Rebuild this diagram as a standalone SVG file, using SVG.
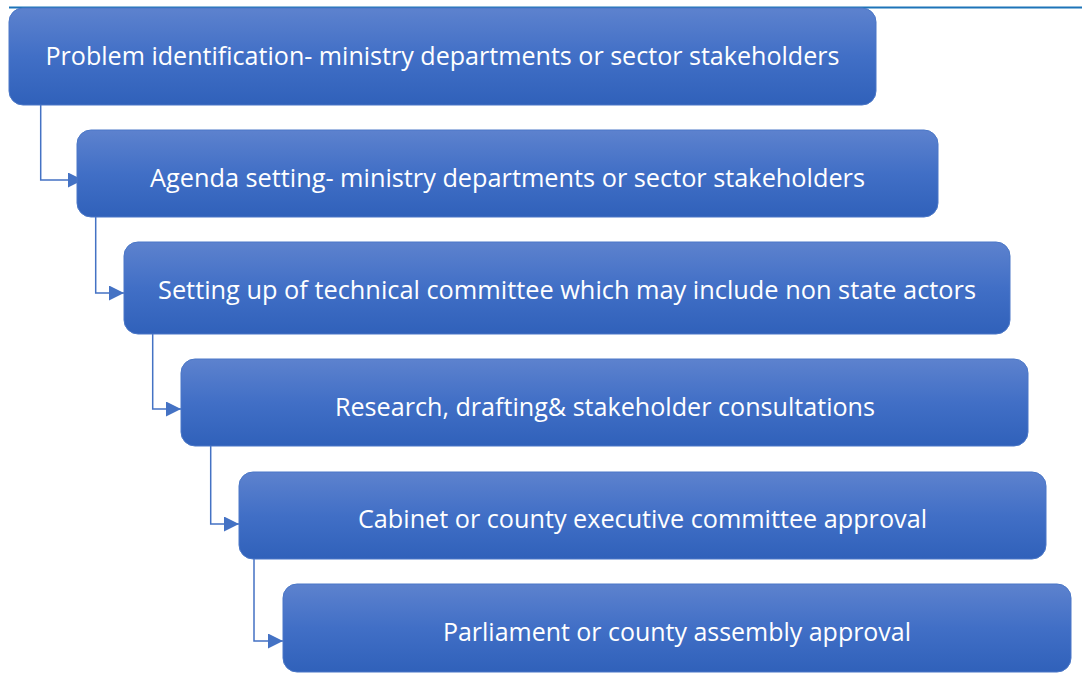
<svg xmlns="http://www.w3.org/2000/svg" width="1082" height="673" viewBox="0 0 1082 673">
  <defs>
    <linearGradient id="boxFill" x1="0" y1="0" x2="0" y2="1">
      <stop offset="0" stop-color="#5D82CE"/>
      <stop offset="0.5" stop-color="#416FC6"/>
      <stop offset="1" stop-color="#3061BA"/>
    </linearGradient>
    <marker id="arrow" markerWidth="16" markerHeight="16" refX="15" refY="7.5" orient="auto" markerUnits="userSpaceOnUse">
      <path d="M0,0 L15,7.5 L0,15 Z" fill="#4472C4"/>
    </marker>
  </defs>
  <style>
    .box { fill: url(#boxFill); stroke: #4A77C7; stroke-width: 1; }
    .label { font-family: "Open Sans", "Noto Sans", "DejaVu Sans", sans-serif; font-size: 25px; fill: #FFFFFF; text-anchor: middle; }
    .conn { fill: none; stroke: #4472C4; stroke-width: 1.5; marker-end: url(#arrow); }
  </style>

  <rect x="0" y="0" width="1082" height="673" fill="#FFFFFF"/>

  <!-- header rule -->
  <line x1="9" y1="7.5" x2="1082" y2="7.5" stroke="#1D74B8" stroke-width="2"/>

  <g id="connectors">
    <path class="conn" d="M40.7,105 V180 H83"/>
    <path class="conn" d="M95.7,217 V293 H124"/>
    <path class="conn" d="M152.7,334 V409 H181"/>
    <path class="conn" d="M210.7,446 V524 H239"/>
    <path class="conn" d="M254,559 V641 H283"/>
  </g>

  <g id="step1">
    <rect class="box" x="9" y="8" width="867" height="97" rx="14"/>
    <text class="label" x="442.5" y="65" textLength="794" lengthAdjust="spacingAndGlyphs">Problem identification- ministry departments or sector stakeholders</text>
  </g>

  <g id="step2">
    <rect class="box" x="77" y="130" width="861" height="87" rx="14"/>
    <text class="label" x="507.5" y="187" textLength="715" lengthAdjust="spacingAndGlyphs">Agenda setting- ministry departments or sector stakeholders</text>
  </g>

  <g id="step3">
    <rect class="box" x="124" y="242" width="886" height="92" rx="14"/>
    <text class="label" x="567" y="299" textLength="818" lengthAdjust="spacingAndGlyphs">Setting up of technical committee which may include non state actors</text>
  </g>

  <g id="step4">
    <rect class="box" x="181" y="359" width="847" height="87" rx="14"/>
    <text class="label" x="605" y="416" textLength="540" lengthAdjust="spacingAndGlyphs">Research, drafting&amp; stakeholder consultations</text>
  </g>

  <g id="step5">
    <rect class="box" x="239" y="472" width="807" height="87" rx="14"/>
    <text class="label" x="642.5" y="528" textLength="569" lengthAdjust="spacingAndGlyphs">Cabinet or county executive committee approval</text>
  </g>

  <g id="step6">
    <rect class="box" x="283" y="584" width="788" height="88" rx="14"/>
    <text class="label" x="677" y="641" textLength="468" lengthAdjust="spacingAndGlyphs">Parliament or county assembly approval</text>
  </g>
</svg>
